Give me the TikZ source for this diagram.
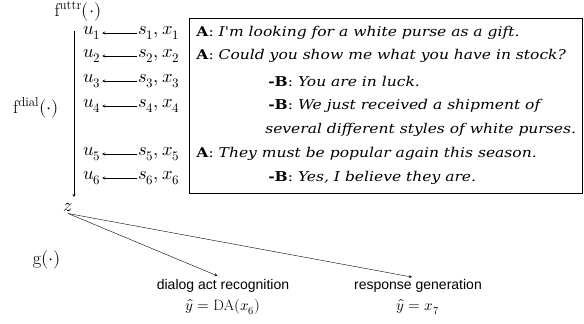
\documentclass[tikz,border=0pt]{standalone}
\usepackage{amsmath}
\usepackage{fontspec}
\usepackage{unicode-math}
\setmathfont{Latin Modern Math}
\newfontfamily\dlgfont[FakeStretch=1.15]{DejaVu Serif}
\newfontfamily\lblfont{Liberation Sans}
\usetikzlibrary{positioning, arrows}

\newcommand{\spk}[2]{\textbf{#1}: \textit{#2}}

\begin{document}
\begin{tikzpicture}[x=1pt, y=-1pt, >=stealth, semithick]
    \tikzstyle{var}=[inner sep=1pt, font=\fontsize{18.5}{20}\selectfont]
    \tikzstyle{pred}=[inner sep=1pt, font=\fontsize{15}{17}\selectfont]
    \tikzstyle{utt}=[anchor=west, inner sep=0pt, font=\dlgfont\fontsize{13.5}{15}\selectfont]
    \tikzstyle{lbl}=[inner sep=1pt, font=\lblfont\fontsize{14}{16}\selectfont]
    \useasboundingbox (0,0) rectangle (584,324);

    % utterance encoder
    \node[var] (fu) at (78,11) {$\mathrm{f}^{\mathrm{uttr}}(\cdot)$};
    \node[var] (u1) at (92,33) {$u_1$};
    \node[var] (u2) at (92,56) {$u_2$};
    \node[var] (u3) at (92,81) {$u_3$};
    \node[var] (u4) at (92,106) {$u_4$};
    \node[var] (u5) at (92,154) {$u_5$};
    \node[var] (u6) at (92,178) {$u_6$};
    \node[var] (s1) at (159,33) {$s_1,x_1$};
    \node[var] (s2) at (159,56) {$s_2,x_2$};
    \node[var] (s3) at (159,81) {$s_3,x_3$};
    \node[var] (s4) at (159,106) {$s_4,x_4$};
    \node[var] (s5) at (159,154) {$s_5,x_5$};
    \node[var] (s6) at (159,178) {$s_6,x_6$};
    \foreach \i in {1,...,6}
        \path[->, thin] (s\i) edge (u\i);

    % dialogue
    \node[draw, thin, anchor=north west, minimum width=393, minimum height=175] (box) at (189,18) {};
    \node[utt] (l1) at (196,33) {\spk{A}{I'm looking for a white purse as a gift.}};
    \node[utt] (l2) at (196,56) {\spk{A}{Could you show me what you have in stock?}};
    \node[utt] (l3) at (268,81) {\spk{-B}{You are in luck.}};
    \node[utt] (l4) at (268,106) {\spk{-B}{We just received a shipment of}};
    \node[utt] (l4b) at (265,130) {\textit{several different styles of white purses.}};
    \node[utt] (l5) at (196,154) {\spk{A}{They must be popular again this season.}};
    \node[utt] (l6) at (268,178) {\spk{-B}{Yes, I believe they are.}};

    % dialogue encoder
    \coordinate (dtop) at (74,31);
    \coordinate (dbot) at (74,197);
    \path[->, thin] (dtop) edge (dbot);
    \node[var] (fd) at (36,108) {$\mathrm{f}^{\mathrm{dial}}(\cdot)$};
    \node[var] (z) at (68,208) {$z$};
    \node[var] (g) at (47,260) {$\mathrm{g}(\cdot)$};

    % tasks
    \node[lbl] (da) at (223,286) {dialog act recognition};
    \node[pred] (day) at (223,307) {$\hat{y}=\mathrm{DA}(x_6)$};
    \node[lbl] (rg) at (418,286) {response generation};
    \node[pred] (rgy) at (418,307) {$\hat{y}=x_7$};
    \path[->, thin] (z.south) edge [shorten >=6pt] (da.north)
                    (z.south) edge [shorten >=6pt] (rg.north);
\end{tikzpicture}
\end{document}
